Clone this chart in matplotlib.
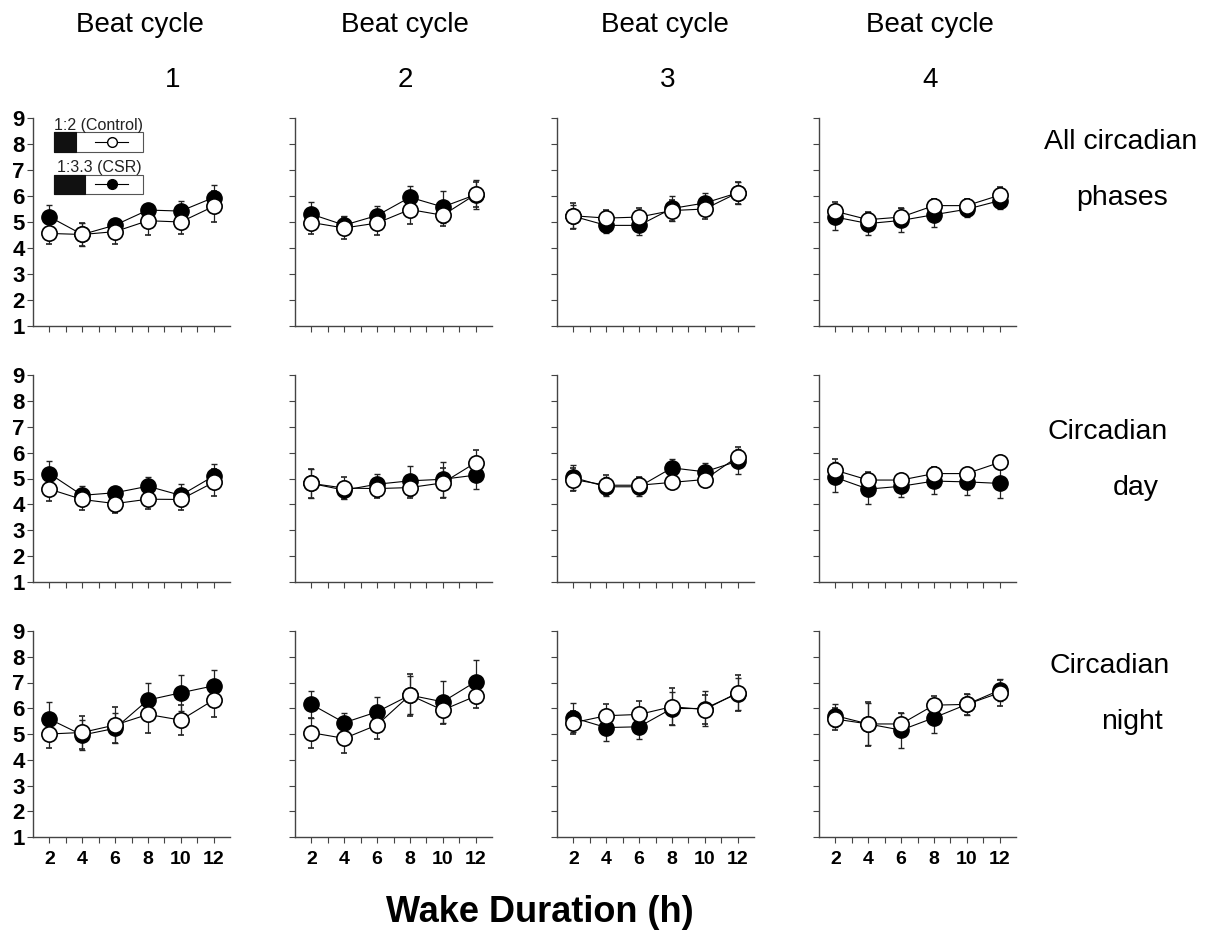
import numpy as np
import matplotlib
matplotlib.use("Agg")
import matplotlib.pyplot as plt
from matplotlib.patches import Rectangle
from matplotlib.ticker import FixedLocator

plt.rcParams['font.family'] = ['Liberation Sans', 'DejaVu Sans']

# Duração da vigília (h)
wake_h = [2, 4, 6, 8, 10, 12]
beat_cycles = ["1", "2", "3", "4"]
row_names = [["All circadian", "phases"], ["Circadian", "day"], ["Circadian", "night"]]

# 1:3.3 (CSR) - simbolos cheios, uma lista por ciclo
csr_all = [[5.20, 4.52, 4.88, 5.46, 5.42, 5.94],
           [5.30, 4.88, 5.25, 5.95, 5.58, 6.05],
           [5.22, 4.87, 4.87, 5.52, 5.73, 6.12],
           [5.19, 4.94, 5.06, 5.28, 5.49, 5.82]]
csr_all_err = [[0.46, 0.45, 0.20, 0.20, 0.40, 0.50],
               [0.46, 0.36, 0.35, 0.43, 0.61, 0.55],
               [0.44, 0.30, 0.36, 0.48, 0.37, 0.43],
               [0.49, 0.44, 0.46, 0.49, 0.31, 0.33]]
csr_day = [[5.19, 4.35, 4.45, 4.70, 4.35, 5.09],
           [4.81, 4.55, 4.78, 4.91, 4.97, 5.13],
           [5.04, 4.68, 4.68, 5.41, 5.26, 5.67],
           [5.04, 4.59, 4.70, 4.90, 4.87, 4.81]]
csr_day_err = [[0.49, 0.37, 0.23, 0.34, 0.43, 0.46],
               [0.56, 0.35, 0.40, 0.58, 0.68, 0.53],
               [0.48, 0.36, 0.36, 0.36, 0.32, 0.48],
               [0.58, 0.59, 0.41, 0.48, 0.49, 0.55]]
csr_night = [[5.58, 4.96, 5.22, 6.32, 6.60, 6.87],
             [6.15, 5.44, 5.86, 6.51, 6.25, 7.03],
             [5.63, 5.25, 5.28, 5.99, 5.99, 6.57],
             [5.71, 5.39, 5.15, 5.63, 6.15, 6.70]]
csr_night_err = [[0.67, 0.60, 0.58, 0.67, 0.71, 0.61],
                 [0.51, 0.39, 0.59, 0.75, 0.81, 0.83],
                 [0.56, 0.51, 0.47, 0.64, 0.69, 0.62],
                 [0.45, 0.82, 0.68, 0.60, 0.40, 0.42]]

# 1:2 (Control) - simbolos abertos
ctrl_all = [[4.56, 4.52, 4.63, 5.05, 5.00, 5.60],
            [4.98, 4.77, 4.96, 5.48, 5.26, 6.06],
            [5.24, 5.15, 5.19, 5.44, 5.50, 6.12],
            [5.41, 5.09, 5.19, 5.63, 5.63, 6.03]]
ctrl_all_err = [[0.42, 0.45, 0.48, 0.55, 0.45, 0.60],
                [0.43, 0.43, 0.45, 0.54, 0.40, 0.48],
                [0.50, 0.33, 0.33, 0.39, 0.37, 0.42],
                [0.35, 0.31, 0.33, 0.24, 0.26, 0.33]]
ctrl_day = [[4.59, 4.19, 4.03, 4.20, 4.19, 4.85],
            [4.81, 4.63, 4.61, 4.65, 4.83, 5.61],
            [4.96, 4.74, 4.74, 4.85, 4.96, 5.84],
            [5.32, 4.94, 4.94, 5.19, 5.19, 5.62]]
ctrl_day_err = [[0.47, 0.42, 0.35, 0.37, 0.42, 0.51],
                [0.57, 0.43, 0.35, 0.42, 0.57, 0.50],
                [0.44, 0.38, 0.30, 0.26, 0.28, 0.39],
                [0.42, 0.32, 0.21, 0.26, 0.22, 0.22]]
ctrl_night = [[5.00, 5.06, 5.35, 5.76, 5.54, 6.32],
              [5.05, 4.83, 5.35, 6.51, 5.93, 6.47],
              [5.44, 5.71, 5.76, 6.06, 5.95, 6.60],
              [5.58, 5.39, 5.39, 6.12, 6.15, 6.60]]
ctrl_night_err = [[0.55, 0.65, 0.71, 0.71, 0.58, 0.67],
                  [0.58, 0.55, 0.56, 0.81, 0.54, 0.45],
                  [0.44, 0.45, 0.53, 0.71, 0.58, 0.70],
                  [0.43, 0.84, 0.44, 0.36, 0.41, 0.50]]

csr_rows = [csr_all, csr_day, csr_night]
csr_err_rows = [csr_all_err, csr_day_err, csr_night_err]
ctrl_rows = [ctrl_all, ctrl_day, ctrl_night]
ctrl_err_rows = [ctrl_all_err, ctrl_day_err, ctrl_night_err]

W, H = 1218, 950
fig = plt.figure(figsize=(W / 100, H / 100), dpi=100)

# posicoes dos paineis em pixeis
col_left = [33, 295, 557, 819]
panel_w = 197
row_top = [118, 375, 631]
row_bot = [326, 582, 837]
spine_col = "#444444"

axes = {}
for r in range(3):
    for c in range(4):
        ax = fig.add_axes([col_left[c] / W, 1 - row_bot[r] / H,
                           panel_w / W, (row_bot[r] - row_top[r]) / H])
        axes[(r, c)] = ax

        ax.errorbar(wake_h, csr_rows[r][c], yerr=csr_err_rows[r][c],
                    fmt="-o", color="black", lw=0.8, ms=11, mfc="black",
                    mec="black", ecolor="#222222", elinewidth=0.9, capsize=2)
        ax.errorbar(wake_h, ctrl_rows[r][c], yerr=ctrl_err_rows[r][c],
                    fmt="-o", color="black", lw=0.8, ms=11, mfc="white",
                    mec="black", mew=1.2, ecolor="#222222", elinewidth=0.9, capsize=2)

        ax.set_xlim(1, 13)
        ax.set_ylim(1, 9)
        for s in ["top", "right"]:
            ax.spines[s].set_visible(False)
        for s in ["left", "bottom"]:
            ax.spines[s].set_color(spine_col)
            ax.spines[s].set_linewidth(1.0)
        ax.set_xticks(wake_h)
        ax.xaxis.set_minor_locator(FixedLocator([3, 5, 7, 9, 11]))
        ax.set_yticks(range(1, 10))
        ax.tick_params(which="both", direction="out", length=4, width=0.8, color=spine_col)

        if r == 2:
            ax.set_xticklabels([str(v) for v in wake_h], fontsize=14, fontweight="bold")
            ax.tick_params(axis="x", pad=6)
        else:
            ax.set_xticklabels([])
        if c == 0:
            ax.set_yticklabels([str(v) for v in range(1, 10)], fontsize=16, fontweight="bold")
            ax.tick_params(axis="y", pad=2)
        else:
            ax.set_yticklabels([])

# legenda dentro do primeiro painel
ax = axes[(0, 0)]
leg = [("1:2 (Control)", "white", 0.966, 0.837, 0.933, 0.218),
       ("1:3.3 (CSR)", "black", 0.760, 0.635, 0.726, 0.264)]
for label, mfc, ty, y0, y1, xblk in leg:
    ax.text(0.335, ty, label, transform=ax.transAxes, ha="center", va="center",
            fontsize=11.5, color="#222222")
    ax.add_patch(Rectangle((0.107, y0), 0.451, y1 - y0, transform=ax.transAxes,
                           facecolor="white", edgecolor="#555555", lw=0.8, clip_on=False))
    ax.add_patch(Rectangle((0.107, y0), xblk - 0.107, y1 - y0, transform=ax.transAxes,
                           facecolor="#111111", edgecolor="#111111", lw=0.8, clip_on=False))
    ym = (y0 + y1) / 2
    ax.plot([0.315, 0.482], [ym, ym], transform=ax.transAxes, color="black", lw=0.8, clip_on=False)
    ax.plot([0.40], [ym], "o", transform=ax.transAxes, ms=7, mfc=mfc, mec="black", clip_on=False)

# titulos das colunas
title_x = [140, 405, 665, 930]
num_x = [173, 405, 668, 930]
for c in range(4):
    fig.text(title_x[c] / W, 1 - 25 / H, "Beat cycle", ha="center", va="center", fontsize=20)
    fig.text(num_x[c] / W, 1 - 80 / H, beat_cycles[c], ha="center", va="center", fontsize=20)

# rotulos das linhas
row_label_pos = [[(1121, 142), (1122, 198)],
                 [(1108, 432), (1136, 488)],
                 [(1110, 666), (1132, 722)]]
for r in range(3):
    for txt, (x, y) in zip(row_names[r], row_label_pos[r]):
        fig.text(x / W, 1 - y / H, txt, ha="center", va="center", fontsize=20.5)

fig.text(540 / W, 1 - 912 / H, "Wake Duration (h)", ha="center", va="center",
         fontsize=26, fontweight="bold")

fig.savefig("out.png", dpi=100)
